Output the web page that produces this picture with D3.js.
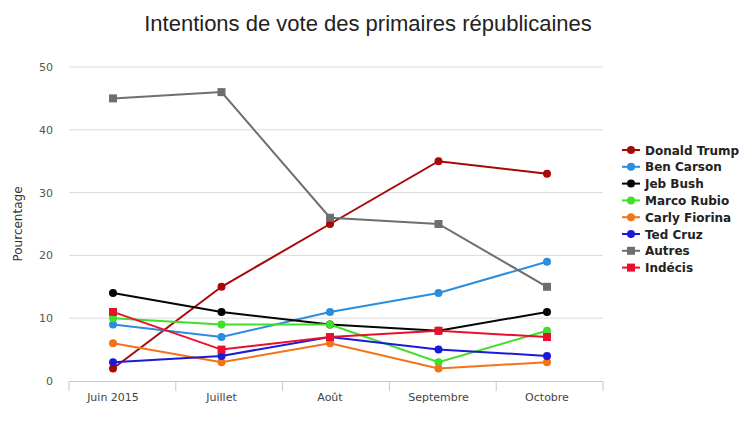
<!DOCTYPE html>
<html>
<head>
<meta charset="utf-8">
<script src="https://cdn.jsdelivr.net/npm/d3@7"></script>
<style>
    body { margin: 0; background: #fff; }
    svg { display: block; }
</style>
</head>
<body>
<div id="svg-container"></div>
<script>
// Chart data
const months = ["Juin 2015", "Juillet", "Août", "Septembre", "Octobre"];
const candidates = ["Donald Trump", "Ben Carson", "Jeb Bush", "Marco Rubio", "Carly Fiorina", "Ted Cruz", "Autres", "Indécis"];
const trump = [2, 15, 25, 35, 33];
const carson = [9, 7, 11, 14, 19];
const bush = [14, 11, 9, 8, 11];
const rubio = [10, 9, 9, 3, 8];
const fiorina = [6, 3, 6, 2, 3];
const cruz = [3, 4, 7, 5, 4];
const autres = [45, 46, 26, 25, 15];
const indecis = [11, 5, 7, 8, 7];
const yTicks = [0, 10, 20, 30, 40, 50];

const series = [
    { name: candidates[0], values: trump, color: "#a80808", marker: "circle" },
    { name: candidates[1], values: carson, color: "#2a8de0", marker: "circle" },
    { name: candidates[2], values: bush, color: "#050505", marker: "circle" },
    { name: candidates[3], values: rubio, color: "#3ee02a", marker: "circle" },
    { name: candidates[4], values: fiorina, color: "#f27318", marker: "circle" },
    { name: candidates[5], values: cruz, color: "#1a1ad8", marker: "circle" },
    { name: candidates[6], values: autres, color: "#6e6e6e", marker: "square" },
    { name: candidates[7], values: indecis, color: "#e8102c", marker: "square" }
];

const width = 754, height = 424;
const svg = d3.select("#svg-container")
    .append("svg")
    .attr("width", width)
    .attr("height", height);

// scales
const xBand = d3.scaleBand().domain(months).range([69, 603]);
const x = d3.scalePoint().domain(months).range([113, 547]);
const y = d3.scaleLinear().domain([0, 50]).range([381, 67]);

// title
svg.append("text")
    .attr("x", 368)
    .attr("y", 31)
    .attr("text-anchor", "middle")
    .attr("font-family", "Liberation Sans, Arial, sans-serif")
    .attr("font-size", 22)
    .attr("fill", "#222")
    .text("Intentions de vote des primaires républicaines");

// grid lines
svg.append("g")
    .selectAll("line")
    .data(yTicks.filter(d => d > 0))
    .enter()
    .append("line")
    .attr("x1", 69)
    .attr("x2", 603)
    .attr("y1", d => y(d))
    .attr("y2", d => y(d))
    .attr("stroke", "#dcdcdc")
    .attr("stroke-width", 1);

// y tick labels
svg.append("g")
    .selectAll("text")
    .data(yTicks)
    .enter()
    .append("text")
    .attr("x", 53)
    .attr("y", d => y(d) + 4)
    .attr("text-anchor", "end")
    .attr("font-family", "DejaVu Sans, sans-serif")
    .attr("font-size", 11)
    .attr("fill", "#555")
    .text(d => d);

// y axis title
svg.append("text")
    .attr("transform", "translate(22,224) rotate(-90)")
    .attr("text-anchor", "middle")
    .attr("font-family", "DejaVu Sans, sans-serif")
    .attr("font-size", 12)
    .attr("fill", "#333")
    .text("Pourcentage");

// x axis
const xAxis = svg.append("g");
xAxis.append("line")
    .attr("x1", 69).attr("x2", 603)
    .attr("y1", 381.5).attr("y2", 381.5)
    .attr("stroke", "#c0cad8");
const tickPos = months.map(m => xBand(m)).concat([xBand.range()[1]]);
xAxis.selectAll(".tick")
    .data(tickPos)
    .enter()
    .append("line")
    .attr("x1", d => d).attr("x2", d => d)
    .attr("y1", 381).attr("y2", 391)
    .attr("stroke", "#c0cad8");
xAxis.selectAll(".lbl")
    .data(months)
    .enter()
    .append("text")
    .attr("x", d => x(d))
    .attr("y", 401)
    .attr("text-anchor", "middle")
    .attr("font-family", "DejaVu Sans, sans-serif")
    .attr("font-size", 11)
    .attr("fill", "#444")
    .text(d => d);

// lines
const line = d3.line()
    .x((d, i) => x(months[i]))
    .y(d => y(d));

const g = svg.append("g");
series.forEach(s => {
    g.append("path")
        .attr("d", line(s.values))
        .attr("fill", "none")
        .attr("stroke", s.color)
        .attr("stroke-width", 2);
});

// markers
function drawMarker(sel, s, cx, cy) {
    if (s.marker === "square") {
        sel.append("rect")
            .attr("x", cx - 4).attr("y", cy - 4)
            .attr("width", 8).attr("height", 8)
            .attr("fill", s.color);
    } else {
        sel.append("circle")
            .attr("cx", cx).attr("cy", cy)
            .attr("r", 4)
            .attr("fill", s.color);
    }
}
series.forEach(s => {
    s.values.forEach((v, i) => drawMarker(g, s, x(months[i]), y(v)));
});

// legend
const legend = svg.append("g");
series.forEach((s, i) => {
    const ly = 150 + i * 16.8;
    legend.append("line")
        .attr("x1", 622).attr("x2", 640)
        .attr("y1", ly).attr("y2", ly)
        .attr("stroke", s.color)
        .attr("stroke-width", 2);
    drawMarker(legend, s, 631, ly);
    legend.append("text")
        .attr("x", 645)
        .attr("y", ly + 4.5)
        .attr("font-family", "DejaVu Sans, sans-serif")
        .attr("font-weight", "bold")
        .attr("font-size", 12)
        .attr("fill", "#222")
        .text(s.name);
});
</script>
</body>
</html>
